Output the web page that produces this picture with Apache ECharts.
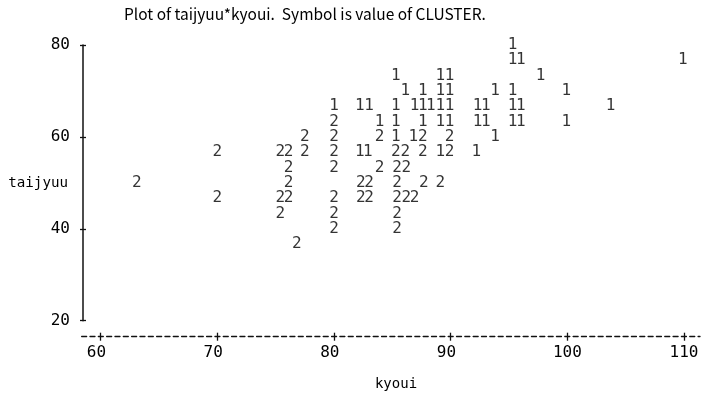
<!DOCTYPE html>
<html>
<head>
<meta charset="utf-8">
<script src="https://cdn.jsdelivr.net/npm/echarts@6/dist/echarts.min.js"></script>
<style>
  html, body { margin: 0; padding: 0; background: #fff; }
  #chart { width: 708px; height: 403px; }
</style>
</head>
<body>
<div id="chart"></div>
<script>
// kyoui, taijyuu pairs
var cluster1 = [
	[95.3, 80],
	[95.3, 76.7], [96.0, 76.7], [109.9, 76.7],
	[85.3, 73.3], [89.1, 73.3], [89.9, 73.3], [97.7, 73.3],
	[86.1, 70], [87.6, 70], [89.1, 70], [89.9, 70], [93.8, 70], [95.3, 70], [99.9, 70],
	[80.0, 66.7], [82.2, 66.7], [83.0, 66.7], [85.3, 66.7], [86.9, 66.7], [87.6, 66.7], [88.3, 66.7],
	[89.1, 66.7], [89.9, 66.7], [92.3, 66.7], [93.0, 66.7], [95.3, 66.7], [96.0, 66.7], [103.7, 66.7],
	[83.9, 63.3], [85.3, 63.3], [87.6, 63.3], [89.1, 63.3], [89.9, 63.3], [92.3, 63.3], [93.0, 63.3],
	[95.3, 63.3], [96.0, 63.3], [99.9, 63.3],
	[85.3, 60], [86.8, 60], [93.8, 60],
	[82.2, 56.7], [82.9, 56.7], [89.1, 56.7], [92.2, 56.7]
];
var cluster2 = [
	[80.0, 63.3],
	[77.5, 60], [80.0, 60], [83.9, 60], [87.6, 60], [89.9, 60],
	[70.0, 56.7], [75.4, 56.7], [76.1, 56.7], [77.5, 56.7], [80.0, 56.7], [85.3, 56.7], [86.1, 56.7],
	[87.6, 56.7], [89.9, 56.7],
	[76.1, 53.3], [80.0, 53.3], [83.9, 53.3], [85.4, 53.3], [86.2, 53.3],
	[63.1, 50], [76.1, 50], [82.3, 50], [83.0, 50], [85.4, 50], [87.7, 50], [89.1, 50],
	[70.0, 46.7], [75.4, 46.7], [76.1, 46.7], [80.0, 46.7], [82.3, 46.7], [83.0, 46.7], [85.4, 46.7],
	[86.2, 46.7], [86.9, 46.7],
	[75.4, 43.3], [80.0, 43.3], [85.4, 43.3],
	[80.0, 40], [85.4, 40],
	[76.8, 36.7]
];
var xTicks = [60, 70, 80, 90, 100, 110];
var yTicks = [20, 40, 60, 80];

var mono = 'DejaVu Sans Mono';
var sans = 'Noto Sans CJK JP';
var ink = '#000';

function symbolSeries(name, data) {
	return {
		name: name,
		type: 'scatter',
		data: data,
		symbolSize: 2,
		itemStyle: { color: 'rgba(0,0,0,0)' },
		silent: true,
		label: {
			show: true,
			position: 'inside',
			formatter: name,
			color: ink,
			fontFamily: mono,
			fontSize: 16
		}
	};
}

var chart = echarts.init(document.getElementById('chart'), null, { renderer: 'canvas' });

chart.setOption({
	backgroundColor: '#fff',
	animation: false,
	title: {
		text: 'Plot of taijyuu*kyoui.  Symbol is value of CLUSTER.',
		left: 124,
		top: 6,
		padding: 0,
		textStyle: { fontFamily: sans, fontSize: 15.5, fontWeight: 'normal', color: ink }
	},
	grid: { left: 80, right: 8, top: 45, bottom: 82.3 },
	xAxis: [{
		type: 'value',
		min: 58.226,
		max: 111.368,
		position: 'bottom',
		offset: 16,
		splitLine: { show: false },
		axisLine: { lineStyle: { color: '#111', width: 1.3, type: [5, 3.33], dashOffset: 6.67 } },
		axisTick: { customValues: xTicks, length: 4, lineStyle: { color: '#111', width: 1.3 } },
		axisLabel: {
			customValues: xTicks,
			margin: 8,
			color: ink,
			fontFamily: mono,
			fontSize: 16,
			formatter: function (v) {
				return v < 100 ? v + '{s| }' : '' + v;
			},
			rich: { s: { width: 8.4, fontFamily: mono, fontSize: 16 } }
		},
		name: 'kyoui',
		nameLocation: 'middle',
		nameGap: 41,
		nameMoveOverlap: false,
		nameTextStyle: { fontFamily: mono, fontSize: 14, color: ink, padding: [0, 0, 0, 12] }
	}, {
		type: 'value',
		min: 58.226,
		max: 111.368,
		position: 'bottom',
		offset: 16,
		splitLine: { show: false },
		axisLine: { show: false },
		axisTick: { inside: true, customValues: xTicks, length: 4, lineStyle: { color: '#111', width: 1.3 } },
		axisLabel: { show: false }
	}],
	yAxis: [{
		type: 'value',
		min: yTicks[0],
		max: yTicks[yTicks.length - 1],
		interval: 20,
		position: 'left',
		offset: -3,
		splitLine: { show: false },
		axisLine: { lineStyle: { color: '#111', width: 1.5 } },
		axisTick: { length: 3, lineStyle: { color: '#111', width: 1.3 } },
		axisLabel: { margin: 13, color: ink, fontFamily: mono, fontSize: 16 },
		name: 'taijyuu',
		nameLocation: 'middle',
		nameRotate: 0,
		nameGap: 15,
		nameMoveOverlap: false,
		nameTextStyle: { fontFamily: mono, fontSize: 14.2, color: ink }
	}, {
		type: 'value',
		min: yTicks[0],
		max: yTicks[yTicks.length - 1],
		interval: 20,
		position: 'left',
		offset: -3,
		splitLine: { show: false },
		axisLine: { show: false },
		axisTick: { inside: true, length: 3, lineStyle: { color: '#111', width: 1.3 } },
		axisLabel: { show: false }
	}],
	series: [
		symbolSeries('1', cluster1),
		symbolSeries('2', cluster2)
	]
});
</script>
</body>
</html>
